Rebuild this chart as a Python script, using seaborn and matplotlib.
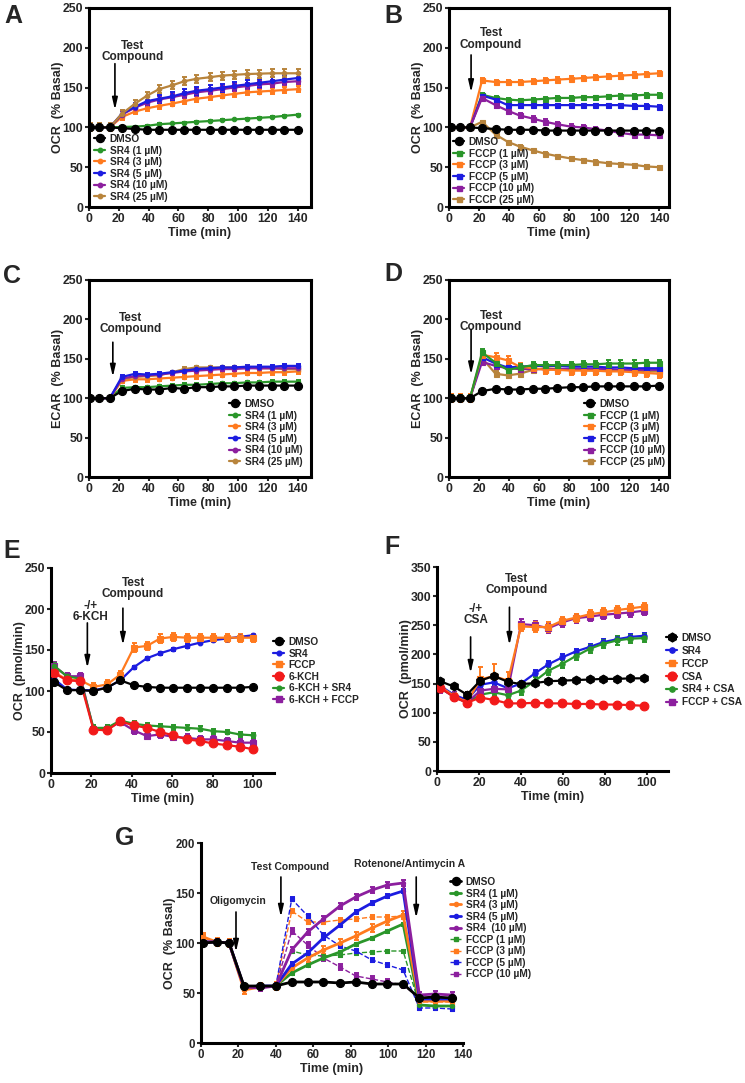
import numpy as np
import pandas as pd
import matplotlib
matplotlib.use("Agg")
import matplotlib.pyplot as plt
from matplotlib.lines import Line2D
import seaborn as sns

sns.set_theme(style="ticks")
plt.rcParams['font.family'] = ['Liberation Sans', 'DejaVu Sans']
plt.rcParams['font.weight'] = 'bold'
plt.rcParams['axes.labelweight'] = 'bold'

# ---------------- DATA ----------------
t_ad = [1, 7, 14, 22, 31, 39, 47, 56, 64, 72, 81, 89, 97, 106, 114, 123, 131, 140]

# Panel A: OCR (% basal), SR4
a_dmso = [100, 100, 100, 99, 98, 97, 97, 97, 97, 97, 97, 97, 97, 97, 97, 97, 97, 97]
a_sr4_1 = [100, 100, 100, 100.5, 101, 102, 104, 105, 106, 107, 108, 109, 110, 111, 112, 113, 114.5, 116]
a_sr4_3 = [100, 100, 100, 113, 120, 124, 127, 130, 133, 136, 138, 140, 142, 144, 145, 146, 147, 148]
a_sr4_5 = [100, 100, 100, 117, 126, 133, 136, 139, 143, 146, 148, 150, 152, 154, 156, 158, 160, 162]
a_sr4_10 = [100, 100, 100, 116, 125, 131, 135, 138, 141, 144, 146, 148, 150, 152, 154, 155, 157, 158]
a_sr4_25 = [100, 100, 100, 117, 130, 140, 148, 153, 158, 161, 163, 165, 166, 167, 167.5, 168, 168, 168]

# Panel B: OCR (% basal), FCCP
b_dmso = [100, 100, 100, 99, 98, 97, 97, 97, 96, 96, 96, 96, 96, 96, 96, 96, 96, 96]
b_fccp_1 = [100, 100, 100, 141, 137, 135, 134, 135, 136, 137, 137, 138, 138, 139, 140, 140, 141, 141]
b_fccp_3 = [100, 100, 100, 159, 157, 157, 157, 158, 159, 160, 161, 162, 163, 164, 165, 166, 167, 168]
b_fccp_5 = [100, 100, 100, 140, 135, 128, 128, 128, 128, 128, 128, 128, 128, 128, 128, 127, 127, 126]
b_fccp_10 = [100, 100, 100, 137, 128, 121, 115, 111, 107, 104, 101, 100, 98, 96, 93, 91, 91, 90]
b_fccp_25 = [100, 100, 100, 107, 91, 82, 76, 71, 67, 64, 61, 59, 57, 55, 54, 53, 51, 50]

# Panel C: ECAR (% basal), SR4
c_dmso = [100, 100, 100, 109, 112, 111, 111, 113, 112, 114, 114, 115, 115, 116, 116, 116, 116, 116]
c_sr4_1 = [100, 100, 100, 113, 114, 114, 115, 116, 117, 117, 118, 119, 119, 120, 120, 121, 121, 121]
c_sr4_3 = [100, 100, 100, 122, 124, 124, 125, 126, 127, 128, 129, 130, 131, 132, 132, 133, 133, 134]
c_sr4_5 = [100, 100, 100, 127, 131, 130, 131, 133, 135, 137, 138, 139, 139, 140, 140, 140, 141, 141]
c_sr4_10 = [100, 100, 100, 125, 128, 129, 130, 132, 134, 135, 136, 137, 137, 138, 138, 138, 138, 138]
c_sr4_25 = [100, 100, 100, 124, 127, 128, 129, 133, 137, 139, 139, 139, 139, 139, 138, 138, 137, 137]

# Panel D: ECAR (% basal), FCCP
d_dmso = [100, 100, 100, 109, 112, 111, 111, 112, 112, 113, 114, 114, 115, 115, 115, 115, 115, 116]
d_fccp_1 = [100, 100, 100, 158, 145, 136, 139, 142, 142, 142, 142, 143, 143, 144, 144, 144, 145, 145]
d_fccp_3 = [100, 100, 100, 155, 152, 148, 140, 138, 136, 136, 135, 135, 135, 134, 134, 133, 132, 131]
d_fccp_5 = [100, 100, 100, 152, 144, 139, 140, 141, 141, 141, 140, 140, 140, 139, 139, 138, 138, 138]
d_fccp_10 = [100, 100, 100, 146, 141, 138, 137, 137, 137, 137, 137, 137, 137, 137, 136, 136, 136, 136]
d_fccp_25 = [100, 100, 100, 151, 131, 129, 131, 136, 138, 137, 136, 136, 135, 135, 135, 135, 134, 134]

# Panel E: OCR (pmol/min), 6-KCH
t_e = [1.3, 7.9, 14.5, 21, 27.7, 34.3, 41, 47.5, 54, 60.6, 67.2, 73.8, 80.4, 87, 93.5, 100]
e_dmso = [111, 101, 101, 100, 104, 113, 107, 105, 104, 104, 104, 104, 104, 104, 104, 105]
e_sr4 = [115, 102, 101, 101, 104, 113, 129, 140, 146, 151, 155, 159, 162, 164, 166, 168]
e_fccp = [123, 114, 113, 105, 108, 120, 153, 155, 164, 166, 165, 165, 165, 165, 165, 165]
e_kch = [122, 113, 112, 53, 52, 63, 58, 55, 50, 46, 41, 39, 36, 34, 32, 29]
e_kch_sr4 = [131, 118, 115, 55, 55, 64, 60, 58, 57, 56, 55, 54, 51, 50, 47, 46]
e_kch_fccp = [131, 118, 118, 54, 54, 62, 52, 45, 47, 44, 43, 41, 41, 39, 37, 37]

# Panel F: OCR (pmol/min), CSA
t_f = [1.6, 7.9, 14.3, 20.6, 27, 33.8, 40, 46.8, 53, 59.7, 66, 72.9, 79, 85.7, 92, 98.4]
f_dmso = [154, 145, 131, 155, 163, 153, 149, 151, 154, 155, 156, 157, 158, 158, 159, 159]
f_sr4 = [146, 131, 122, 148, 152, 142, 150, 168, 183, 195, 205, 213, 221, 226, 230, 232]
f_fccp = [145, 129, 118, 157, 163, 155, 248, 247, 247, 258, 263, 269, 272, 276, 279, 282]
f_fccp_err = [5, 5, 5, 22, 20, 14, 8, 8, 8, 7, 7, 7, 7, 7, 7, 7]
f_csa = [143, 127, 117, 126, 122, 116, 116, 117, 116, 116, 115, 115, 114, 114, 113, 112]
f_sr4_csa = [142, 128, 117, 131, 135, 130, 138, 155, 172, 184, 197, 210, 218, 224, 227, 228]
f_fccp_csa = [142, 128, 117, 138, 141, 140, 252, 250, 245, 255, 262, 265, 268, 270, 272, 275]

# Panel G: OCR (% basal), mito stress test
t_g = [1.2, 8.3, 15, 23, 31.5, 40, 48.5, 57, 65.4, 74.3, 82.7, 91.3, 99.6, 108, 116.7, 125, 134]
g_dmso = [100, 101, 100, 57, 57, 57, 61, 61, 61, 60, 61, 59, 59, 59, 45, 46, 45]
g_sr4_1 = [101, 101, 100, 55, 56, 57, 70, 78, 85, 91, 99, 105, 112, 119, 38, 37, 37]
g_sr4_3 = [106, 101, 100, 53, 56, 57, 75, 85, 93, 100, 107, 115, 122, 128, 42, 42, 42]
g_sr4_5 = [101, 101, 100, 56, 57, 57, 79, 90, 105, 118, 131, 140, 147, 152, 44, 44, 44]
g_sr4_10 = [101, 101, 100, 56, 55, 57, 93, 111, 124, 137, 146, 153, 158, 160, 48, 49, 48]
g_fccp_1 = [101, 101, 100, 56, 56, 57, 92, 88, 87, 88, 90, 91, 92, 92, 38, 37, 37]
g_fccp_3 = [106, 101, 100, 54, 56, 57, 132, 121, 121, 123, 124, 126, 126, 127, 41, 41, 41]
g_fccp_5 = [101, 101, 100, 56, 57, 57, 144, 127, 108, 97, 92, 83, 78, 73, 35, 35, 34]
g_fccp_10 = [101, 101, 100, 56, 56, 57, 112, 98, 85, 76, 67, 64, 61, 58, 45, 45, 45]

# ---------------- STYLE ----------------
GREEN = '#2a962a'
ORANGE = '#ff7a1e'
BLUE = '#1c1ce0'
PURPLE = '#8c1f9e'
BROWN = '#b8843c'
RED = '#f21a1a'
BLACK = '#000000'

W, H = 745, 1083
fig = plt.figure(figsize=(W / 100, H / 100), dpi=100)


def add_axes(x0, x1, y0, y1):
    ax = fig.add_axes([x0 / W, 1 - y1 / H, (x1 - x0) / W, (y1 - y0) / H])
    ax._px = (x1 - x0, y1 - y0)
    return ax


def draw_series(ax, t, y, color, marker, ms, err, ls='-', lw=1.6, z=3):
    sns.lineplot(x=t, y=y, ax=ax, color=color, marker=marker, markersize=ms,
                 markeredgecolor=color, markeredgewidth=0.8, linewidth=lw,
                 linestyle=ls, zorder=z, legend=False)
    ax.errorbar(t, y, yerr=err, fmt='none', ecolor=color, elinewidth=1.4,
                capsize=1.8, capthick=1.4, zorder=z - 0.5)
    return Line2D([0], [0], color=color, marker=marker, markersize=ms,
                  markeredgecolor=color, linewidth=lw, linestyle=ls)


def style_axes(ax, xlim, ylim, xticks, yticks, box=True, ylabel='', fs=8.8):
    ax.set_xlim(*xlim)
    ax.set_ylim(*ylim)
    ax.set_xticks(xticks)
    ax.set_yticks(yticks)
    for sp in ['left', 'bottom', 'top', 'right']:
        ax.spines[sp].set_linewidth(2.2)
        ax.spines[sp].set_color('black')
    if not box:
        ax.spines['top'].set_visible(False)
        ax.spines['right'].set_visible(False)
    ax.tick_params(direction='out', length=3, width=1.5, labelsize=fs, pad=1.2)
    for lab in ax.get_xticklabels() + ax.get_yticklabels():
        lab.set_fontweight('bold')
    ax.set_xlabel('Time (min)', fontsize=9, fontweight='bold')
    ax.set_ylabel(ylabel, fontsize=9, fontweight='bold')
    wpx, hpx = ax._px
    ax.yaxis.set_label_coords(-31 / wpx, 0.5)
    ax.xaxis.set_label_coords(0.5, -26 / hpx)
    ax.xaxis.label.set_va('center')
    ax.yaxis.label.set_va('center')


def legend_at(ax, handles, labels, px, py, fs=7.3, spacing=0.15):
    ax.legend(handles, labels, loc='upper left', bbox_to_anchor=(px / W, 1 - py / H),
              bbox_transform=fig.transFigure, frameon=False, fontsize=fs,
              handlelength=1.1, handletextpad=0.45, labelspacing=spacing,
              borderpad=0, borderaxespad=0, prop={'weight': 'bold', 'size': fs})


def arrow(ax, x, y_top, y_tip):
    ax.annotate('', xy=(x, y_tip), xytext=(x, y_top),
                arrowprops=dict(arrowstyle='-|>,head_width=0.16,head_length=0.7',
                                color='black', lw=1.2, mutation_scale=10, shrinkA=0, shrinkB=0))


def label(ax, x, y, s, fs=8.5):
    ax.text(x, y, s, ha='center', va='center', fontsize=fs, fontweight='bold',
            linespacing=0.9)


def letter(px, py, s):
    fig.text(px / W, 1 - py / H, s, fontsize=18, fontweight='bold', ha='center', va='center')


# ---------------- PANEL A ----------------
axA = add_axes(89, 311, 8, 207)
h = []
h.append(draw_series(axA, t_ad, a_sr4_1, GREEN, 'o', 3.2, 1))
h.append(draw_series(axA, t_ad, a_sr4_3, ORANGE, 'o', 3.2, 3.5))
h.append(draw_series(axA, t_ad, a_sr4_10, PURPLE, 'o', 3.2, 4))
h.append(draw_series(axA, t_ad, a_sr4_5, BLUE, 'o', 3.2, 5))
h.append(draw_series(axA, t_ad, a_sr4_25, BROWN, 'o', 3.2, 5))
hd = draw_series(axA, t_ad, a_dmso, BLACK, 'o', 5.8, 0.5, z=6)
style_axes(axA, (0, 149), (0, 250), range(0, 141, 20), range(0, 251, 50), True, 'OCR  (% Basal)')
legend_at(axA, [hd, h[0], h[1], h[3], h[2], h[4]],
          ['DMSO', 'SR4 (1 µM)', 'SR4 (3 µM)', 'SR4 (5 µM)', 'SR4 (10 µM)', 'SR4 (25 µM)'], 94, 134)
label(axA, 29.5, 195, 'Test\nCompound')
arrow(axA, 17.4, 180, 122)
letter(13, 16, 'A')

# ---------------- PANEL B ----------------
axB = add_axes(449, 669, 8, 207)
h = []
h.append(draw_series(axB, t_ad, b_fccp_1, GREEN, 's', 3.6, 2))
h.append(draw_series(axB, t_ad, b_fccp_3, ORANGE, 's', 3.6, 3))
h.append(draw_series(axB, t_ad, b_fccp_5, BLUE, 's', 3.6, 2))
h.append(draw_series(axB, t_ad, b_fccp_10, PURPLE, 's', 3.6, 3))
h.append(draw_series(axB, t_ad, b_fccp_25, BROWN, 's', 3.6, 1.5))
hd = draw_series(axB, t_ad, b_dmso, BLACK, 'o', 5.8, 0.5, z=6)
style_axes(axB, (0, 146.5), (0, 250), range(0, 141, 20), range(0, 251, 50), True, 'OCR  (% Basal)')
legend_at(axB, [hd] + h,
          ['DMSO', 'FCCP (1 µM)', 'FCCP (3 µM)', 'FCCP (5 µM)', 'FCCP (10 µM)', 'FCCP (25 µM)'], 453, 137)
label(axB, 28, 211, 'Test\nCompound')
arrow(axB, 14.7, 191, 144)
letter(393, 16, 'B')

# ---------------- PANEL C ----------------
axC = add_axes(89, 311, 280, 477)
h = []
h.append(draw_series(axC, t_ad, c_sr4_1, GREEN, 'o', 3.2, 2))
h.append(draw_series(axC, t_ad, c_sr4_3, ORANGE, 'o', 3.2, 3))
h.append(draw_series(axC, t_ad, c_sr4_25, BROWN, 'o', 3.2, 2))
h.append(draw_series(axC, t_ad, c_sr4_10, PURPLE, 'o', 3.2, 2))
h.append(draw_series(axC, t_ad, c_sr4_5, BLUE, 'o', 3.2, 2))
hd = draw_series(axC, t_ad, c_dmso, BLACK, 'o', 5.8, 1.5, z=6)
style_axes(axC, (0, 149), (0, 250), range(0, 141, 20), range(0, 251, 50), True, 'ECAR  (% Basal)')
legend_at(axC, [hd, h[0], h[1], h[4], h[3], h[2]],
          ['DMSO', 'SR4 (1 µM)', 'SR4 (3 µM)', 'SR4 (5 µM)', 'SR4 (10 µM)', 'SR4 (25 µM)'], 229, 399)
label(axC, 28, 195, 'Test\nCompound')
arrow(axC, 16, 171, 127)
letter(12, 276, 'C')

# ---------------- PANEL D ----------------
axD = add_axes(449, 669, 280, 477)
h = []
h.append(draw_series(axD, t_ad, d_fccp_25, BROWN, 's', 3.6, 3))
h.append(draw_series(axD, t_ad, d_fccp_10, PURPLE, 's', 3.6, 4))
h.append(draw_series(axD, t_ad, d_fccp_5, BLUE, 's', 3.6, 3))
h.append(draw_series(axD, t_ad, d_fccp_3, ORANGE, 's', 3.6, 5))
h.append(draw_series(axD, t_ad, d_fccp_1, GREEN, 's', 3.6, 4))
hd = draw_series(axD, t_ad, d_dmso, BLACK, 'o', 5.8, 1.5, z=6)
style_axes(axD, (0, 146.5), (0, 250), range(0, 141, 20), range(0, 251, 50), True, 'ECAR  (% Basal)')
legend_at(axD, [hd, h[4], h[3], h[2], h[1], h[0]],
          ['DMSO', 'FCCP (1 µM)', 'FCCP (3 µM)', 'FCCP (5 µM)', 'FCCP (10 µM)', 'FCCP (25 µM)'], 584, 399)
label(axD, 28, 197, 'Test\nCompound')
arrow(axD, 14.7, 187, 130)
letter(393, 274, 'D')

# ---------------- PANEL E ----------------
axE = add_axes(51, 274, 568, 773)
h_sr4 = draw_series(axE, t_e, e_sr4, BLUE, 'o', 3.4, 2)
h_fccp = draw_series(axE, t_e, e_fccp, ORANGE, 's', 3.8, 5)
h_kf = draw_series(axE, t_e, e_kch_fccp, PURPLE, 's', 3.8, 4)
h_ks = draw_series(axE, t_e, e_kch_sr4, GREEN, 'o', 3.4, 3)
h_k = draw_series(axE, t_e, e_kch, RED, 'o', 6.3, 2, z=5)
hd = draw_series(axE, t_e, e_dmso, BLACK, 'o', 5.8, 1.5, z=6)
style_axes(axE, (0, 110.4), (0, 250), range(0, 101, 20), range(0, 251, 50), False, 'OCR  (pmol/min)')
legend_at(axE, [hd, h_sr4, h_fccp, h_k, h_ks, h_kf],
          ['DMSO', 'SR4', 'FCCP', '6-KCH', '6-KCH + SR4', '6-KCH + FCCP'], 273, 637)
label(axE, 19.6, 197, '-/+\n6-KCH')
arrow(axE, 18, 183, 128)
label(axE, 40.6, 225, 'Test\nCompound')
arrow(axE, 35.6, 201, 156)
letter(12, 551, 'E')

# ---------------- PANEL F ----------------
axF = add_axes(437, 668, 567, 771)
h_sr4 = draw_series(axF, t_f, f_sr4, BLUE, 'o', 3.8, 5)
h_sc = draw_series(axF, t_f, f_sr4_csa, GREEN, 'o', 3.8, 7)
h_fc = draw_series(axF, t_f, f_fccp_csa, PURPLE, 's', 3.8, 8)
h_fccp = draw_series(axF, t_f, f_fccp, ORANGE, 's', 3.8, f_fccp_err)
h_csa = draw_series(axF, t_f, f_csa, RED, 'o', 6.3, 4, z=5)
hd = draw_series(axF, t_f, f_dmso, BLACK, 'h', 6.3, 4, z=6)
style_axes(axF, (0, 110), (0, 350), range(0, 101, 20), range(0, 351, 50), False, 'OCR  (pmol/min)')
legend_at(axF, [hd, h_sr4, h_fccp, h_csa, h_sc, h_fc],
          ['DMSO', 'SR4', 'FCCP', 'CSA', 'SR4 + CSA', 'FCCP + CSA'], 666, 633, spacing=0.28)
label(axF, 18.6, 268, '-/+\nCSA')
arrow(axF, 16, 230, 168)
label(axF, 38, 320, 'Test\nCompound')
arrow(axF, 34.5, 281, 216)
letter(392, 547, 'F')

# ---------------- PANEL G ----------------
axG = add_axes(201, 463, 843, 1043)
hg = {}
hg['f1'] = draw_series(axG, t_g, g_fccp_1, GREEN, 's', 3.2, 1.5, ls='--', lw=1.0)
hg['f3'] = draw_series(axG, t_g, g_fccp_3, ORANGE, 's', 3.2, 2, ls='--', lw=1.0)
hg['f5'] = draw_series(axG, t_g, g_fccp_5, BLUE, 's', 3.2, 2, ls='--', lw=1.0)
hg['f10'] = draw_series(axG, t_g, g_fccp_10, PURPLE, 's', 3.2, 3, ls='--', lw=1.0)
hg['s1'] = draw_series(axG, t_g, g_sr4_1, GREEN, 'o', 3.0, 1.5, lw=2.0)
hg['s3'] = draw_series(axG, t_g, g_sr4_3, ORANGE, 'o', 3.0, 4, lw=2.0)
hg['s5'] = draw_series(axG, t_g, g_sr4_5, BLUE, 'o', 3.0, 2, lw=2.0)
hg['s10'] = draw_series(axG, t_g, g_sr4_10, PURPLE, 'o', 3.0, 3, lw=2.0)
hd = draw_series(axG, t_g, g_dmso, BLACK, 'o', 5.8, 2, lw=2.0, z=6)
style_axes(axG, (0, 140), (0, 200), range(0, 141, 20), range(0, 201, 50), False, 'OCR  (% Basal)', fs=8.3)
legend_at(axG, [hd, hg['s1'], hg['s3'], hg['s5'], hg['s10'], hg['f1'], hg['f3'], hg['f5'], hg['f10']],
          ['DMSO', 'SR4 (1 µM)', 'SR4 (3 µM)', 'SR4 (5 µM)', 'SR4  (10 µM)',
           'FCCP (1 µM)', 'FCCP (3 µM)', 'FCCP (5 µM)', 'FCCP (10 µM)'], 450, 877)
label(axG, 20, 142, 'Oligomycin', fs=7.5)
arrow(axG, 18.7, 131, 91)
label(axG, 47.6, 176, 'Test Compound', fs=7.5)
arrow(axG, 42.7, 166, 126)
label(axG, 111.7, 179, 'Rotenone/Antimycin A', fs=7.5)
arrow(axG, 115, 166, 125)
letter(125, 838, 'G')

fig.savefig('out.png', dpi=100)
